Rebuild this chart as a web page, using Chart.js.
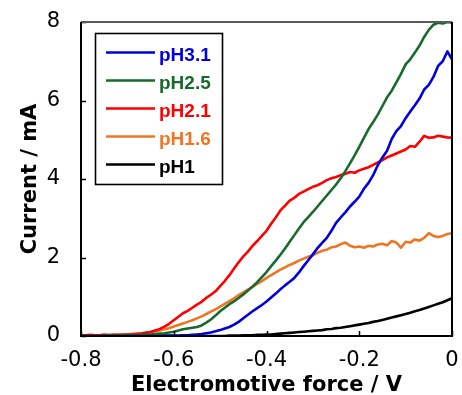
<!DOCTYPE html>
<html>
<head>
<meta charset="utf-8">
<script src="https://cdn.jsdelivr.net/npm/chart.js@4.4.1/dist/chart.umd.min.js"></script>
<style>
  html, body { margin: 0; padding: 0; background: #fff; }
  #wrap { width: 462px; height: 395px; }
</style>
</head>
<body>
<div id="wrap"><canvas id="c" width="462" height="395"></canvas></div>
<script>
// Electromotive force (V), sampled every 0.01 V
const emf = [
  -0.80,-0.79,-0.78,-0.77,-0.76,-0.75,-0.74,-0.73,-0.72,-0.71,
  -0.70,-0.69,-0.68,-0.67,-0.66,-0.65,-0.64,-0.63,-0.62,-0.61,
  -0.60,-0.59,-0.58,-0.57,-0.56,-0.55,-0.54,-0.53,-0.52,-0.51,
  -0.50,-0.49,-0.48,-0.47,-0.46,-0.45,-0.44,-0.43,-0.42,-0.41,
  -0.40,-0.39,-0.38,-0.37,-0.36,-0.35,-0.34,-0.33,-0.32,-0.31,
  -0.30,-0.29,-0.28,-0.27,-0.26,-0.25,-0.24,-0.23,-0.22,-0.21,
  -0.20,-0.19,-0.18,-0.17,-0.16,-0.15,-0.14,-0.13,-0.12,-0.11,
  -0.10,-0.09,-0.08,-0.07,-0.06,-0.05,-0.04,-0.03,-0.02,-0.01,
  0.00
];

// Current (mA)
const pH31 = [
  0,0,0,0,0,0,0,0,0,0,
  0,0,0,0,0,0,0,0,0.01,0.01,
  0.01,0.01,0.02,0.02,0.03,0.04,0.05,0.07,0.09,0.12,
  0.15,0.19,0.23,0.29,0.36,0.45,0.54,0.63,0.71,0.79,
  0.88,0.98,1.08,1.19,1.29,1.38,1.48,1.62,1.78,1.93,
  2.08,2.24,2.37,2.50,2.68,2.88,3.02,3.15,3.30,3.42,
  3.55,3.75,3.90,4.10,4.35,4.55,4.72,5.02,5.22,5.35,
  5.55,5.72,5.88,6.05,6.28,6.40,6.60,6.88,7.00,7.25,
  7.05
];
const pH25 = [
  0,0,0,0,0,0.01,0.01,0.01,0.01,0.01,
  0.02,0.02,0.02,0.03,0.04,0.04,0.05,0.06,0.07,0.09,
  0.11,0.14,0.17,0.19,0.21,0.23,0.27,0.34,0.42,0.52,
  0.63,0.72,0.81,0.88,0.97,1.06,1.16,1.26,1.37,1.50,
  1.63,1.78,1.92,2.07,2.23,2.40,2.57,2.74,2.90,3.03,
  3.16,3.30,3.44,3.58,3.72,3.86,4.02,4.20,4.40,4.60,
  4.82,5.05,5.27,5.45,5.64,5.86,6.08,6.25,6.46,6.68,
  6.92,7.05,7.22,7.40,7.62,7.80,7.93,7.98,7.96,8.00,
  7.98
];
const pH21 = [
  0.02,0.02,0.03,0.02,0.02,0.03,0.02,0.03,0.03,0.03,
  0.04,0.04,0.05,0.06,0.08,0.10,0.14,0.18,0.24,0.31,
  0.40,0.49,0.58,0.64,0.72,0.80,0.87,0.97,1.05,1.14,
  1.27,1.40,1.55,1.72,1.88,2.03,2.15,2.30,2.42,2.55,
  2.68,2.86,3.02,3.20,3.32,3.45,3.52,3.62,3.68,3.74,
  3.80,3.84,3.90,3.97,4.02,4.05,4.10,4.13,4.18,4.16,
  4.22,4.26,4.30,4.36,4.42,4.48,4.55,4.60,4.65,4.70,
  4.75,4.84,4.82,4.95,5.10,5.05,5.06,5.10,5.08,5.06,
  5.05
];
const pH16 = [
  0.02,0.02,0.02,0.02,0.02,0.03,0.03,0.03,0.03,0.04,
  0.04,0.05,0.06,0.07,0.09,0.10,0.12,0.14,0.17,0.20,
  0.24,0.28,0.32,0.36,0.40,0.45,0.50,0.56,0.62,0.68,
  0.75,0.82,0.89,0.96,1.04,1.11,1.18,1.25,1.33,1.40,
  1.48,1.55,1.62,1.69,1.75,1.81,1.86,1.92,1.97,2.02,
  2.06,2.12,2.17,2.20,2.26,2.28,2.34,2.38,2.30,2.26,
  2.28,2.25,2.30,2.28,2.33,2.35,2.31,2.42,2.38,2.25,
  2.40,2.38,2.46,2.43,2.50,2.62,2.55,2.52,2.55,2.60,
  2.62
];
const pH1 = [
  0,0,0,0,0,0,0,0,0,0,
  0,0,0,0,0,0,0,0,0,0,
  0,0,0,0,0,0,0,0,0,0,
  0,0,0.01,0.01,0.01,0.02,0.02,0.02,0.03,0.03,
  0.04,0.04,0.05,0.06,0.07,0.08,0.09,0.10,0.11,0.12,
  0.13,0.14,0.15,0.17,0.18,0.20,0.21,0.23,0.25,0.27,
  0.29,0.31,0.33,0.36,0.38,0.41,0.44,0.47,0.50,0.53,
  0.56,0.59,0.63,0.66,0.70,0.74,0.78,0.82,0.86,0.91,
  0.96
];

const seriesLabels = ['pH3.1', 'pH2.5', 'pH2.1', 'pH1.6', 'pH1'];
const seriesValues = [pH31, pH25, pH21, pH16, pH1];
const seriesColors = ['#0000DC', '#186A2C', '#FF0000', '#EE7622', '#000000'];

const xTickValues = [-0.8, -0.6, -0.4, -0.2, 0];
const yTickValues = [0, 2, 4, 6, 8];

const datasets = seriesLabels.map((lab, i) => ({
  label: lab,
  data: emf.map((x, k) => ({ x: x, y: seriesValues[i][k] })),
  borderColor: seriesColors[i],
  backgroundColor: seriesColors[i],
  borderWidth: 2.6,
  pointRadius: 0,
  tension: 0,
  fill: false,
  borderJoinStyle: 'round'
}));

const framePlugin = {
  id: 'frame',
  afterDatasetsDraw(chart) {
    const { ctx, chartArea: a, scales } = chart;
    ctx.save();
    ctx.strokeStyle = '#000';
    ctx.lineWidth = 1.5;
    xTickValues.forEach(v => {
      const px = Math.round(scales.x.getPixelForValue(v)) + 0.5;
      ctx.beginPath(); ctx.moveTo(px, a.bottom); ctx.lineTo(px, a.bottom - 5); ctx.stroke();
    });
    yTickValues.forEach(v => {
      const py = Math.round(scales.y.getPixelForValue(v)) + 0.5;
      ctx.beginPath(); ctx.moveTo(a.left, py); ctx.lineTo(a.left + 5, py); ctx.stroke();
    });
    ctx.lineWidth = 2;
    ctx.strokeStyle = '#5a5a5a';
    ctx.beginPath(); ctx.moveTo(a.left, a.top); ctx.lineTo(a.right, a.top); ctx.stroke();
    ctx.strokeStyle = '#000';
    ctx.beginPath();
    ctx.moveTo(a.right, a.top); ctx.lineTo(a.right, a.bottom);
    ctx.lineTo(a.left, a.bottom); ctx.lineTo(a.left, a.top);
    ctx.stroke();
    ctx.restore();
  }
};

const legendPlugin = {
  id: 'boxLegend',
  afterDraw(chart) {
    const { ctx } = chart;
    const ds = chart.data.datasets;
    ctx.save();
    ctx.fillStyle = '#fff';
    ctx.fillRect(95, 33, 127, 151);
    ctx.strokeStyle = '#000';
    ctx.lineWidth = 1.6;
    ctx.strokeRect(95.5, 33.5, 127, 151);
    const rowY = [52.5, 80.5, 108.5, 136.5, 164.5];
    ctx.font = 'bold 19px "Liberation Sans", Arial, sans-serif';
    ctx.textAlign = 'left';
    ctx.textBaseline = 'alphabetic';
    ds.forEach((d, i) => {
      const y = rowY[i];
      ctx.strokeStyle = d.borderColor;
      ctx.lineWidth = 2.6;
      ctx.beginPath(); ctx.moveTo(106, y); ctx.lineTo(155, y); ctx.stroke();
      ctx.fillStyle = d.borderColor;
      ctx.fillText(d.label, 159, y + 8.5);
    });
    ctx.restore();
  }
};

new Chart(document.getElementById('c'), {
  type: 'line',
  data: { datasets: datasets },
  options: {
    responsive: false,
    animation: false,
    events: [],
    layout: { padding: { top: 22, right: 10, left: 0, bottom: 0 } },
    plugins: { legend: { display: false }, tooltip: { enabled: false } },
    scales: {
      x: {
        type: 'linear',
        min: -0.8, max: 0,
        afterFit(s) { s.height = 59; s.paddingLeft = 0; s.paddingRight = 0; },
        afterBuildTicks(s) { s.ticks = xTickValues.map(v => ({ value: v })); },
        grid: { display: false },
        border: { display: false },
        ticks: {
          color: '#000',
          padding: 4,
          maxRotation: 0,
          font: { family: '"DejaVu Sans", sans-serif', size: 21 },
          callback: v => (Math.abs(v) < 1e-9 ? '0' : Number(v).toFixed(1))
        },
        title: {
          display: true,
          text: 'Electromotive force / V',
          color: '#000',
          font: { family: '"DejaVu Sans", sans-serif', size: 21, weight: 'bold' },
          padding: { top: 0, bottom: -3 }
        }
      },
      y: {
        type: 'linear',
        min: 0, max: 8,
        afterFit(s) { s.width = 81; s.paddingTop = 0; s.paddingBottom = 0; },
        afterBuildTicks(s) { s.ticks = yTickValues.map(v => ({ value: v })); },
        grid: { display: false },
        border: { display: false },
        ticks: {
          color: '#000',
          padding: 13,
          font: { family: '"DejaVu Sans", sans-serif', size: 21 },
          callback: v => String(v)
        },
        title: {
          display: true,
          text: 'Current / mA',
          color: '#000',
          font: { family: '"DejaVu Sans", sans-serif', size: 21, weight: 'bold' },
          padding: { top: 18, bottom: 0 }
        }
      }
    }
  },
  plugins: [framePlugin, legendPlugin]
});
</script>
</body>
</html>
